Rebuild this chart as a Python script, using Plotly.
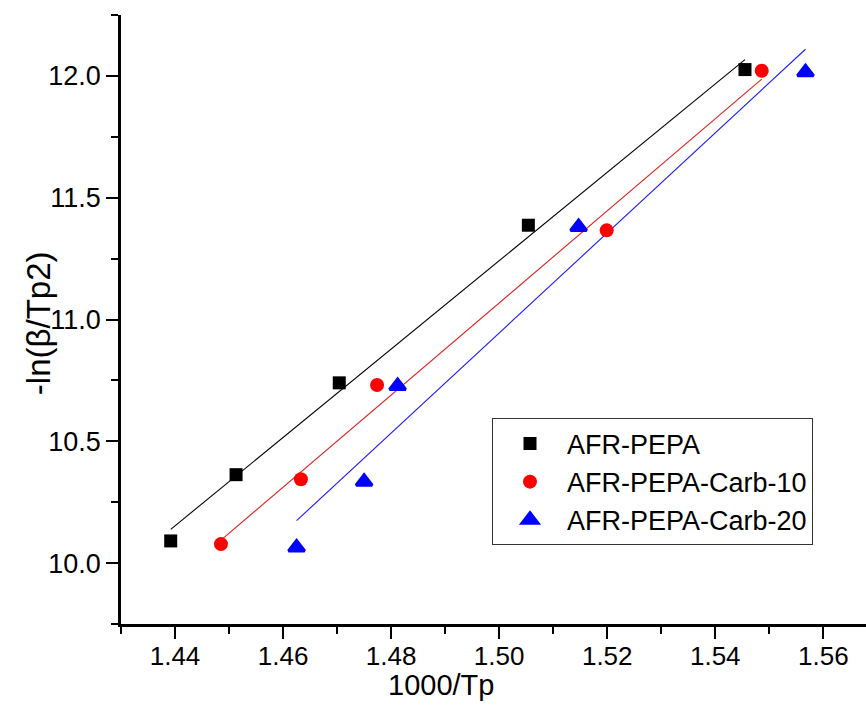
import numpy as np
import plotly.graph_objects as go

# 1000/Tp and -ln(beta/Tp^2) for each sample
x_pepa = [1.4392, 1.4513, 1.4704, 1.5054, 1.5455]
y_pepa = [10.091, 10.363, 10.740, 11.387, 12.026]

x_carb10 = [1.4485, 1.4633, 1.4774, 1.5199, 1.5486]
y_carb10 = [10.078, 10.344, 10.731, 11.366, 12.021]

x_carb20 = [1.4625, 1.4750, 1.4812, 1.5147, 1.5567]
y_carb20 = [10.064, 10.334, 10.727, 11.380, 12.015]

names = ["AFR-PEPA", "AFR-PEPA-Carb-10", "AFR-PEPA-Carb-20"]

FONT = "Liberation Sans, Arial, sans-serif"
NARROW = "Liberation Sans Narrow, Arial Narrow, Liberation Sans, sans-serif"

series = [
    (x_pepa, y_pepa, names[0], "#000000", "#000000", "square", 13, 0),
    (x_carb10, y_carb10, names[1], "#ff0000", "#e02020", "circle", 14, 0),
    (x_carb20, y_carb20, names[2], "#0000ff", "#1a1aff", "triangle-up", 14, 3),
]

fig = go.Figure()

# least-squares fit lines across each series' x span
for xs, ys, name, mcol, lcol, sym, msz, mlw in series:
    k, b = np.polyfit(xs, ys, 1)
    xf = np.array([min(xs), max(xs)])
    fig.add_trace(go.Scatter(
        x=xf, y=k * xf + b, mode="lines",
        line=dict(color=lcol, width=1.1),
        showlegend=False, hoverinfo="skip",
    ))

for xs, ys, name, mcol, lcol, sym, msz, mlw in series:
    fig.add_trace(go.Scatter(
        x=xs, y=ys, mode="markers", name=name,
        marker=dict(symbol=sym, size=msz, color=mcol,
                    line=dict(color=mcol, width=mlw)),
    ))

axis_common = dict(
    showline=True, linecolor="black", linewidth=2.5,
    ticks="outside", ticklen=12, tickwidth=2, tickcolor="black",
    showgrid=False, zeroline=False, mirror=False,
)

fig.update_xaxes(
    range=[1.43, 1.5679], tick0=1.44, dtick=0.02, tickformat=".2f",
    tickfont=dict(family=NARROW, size=26, color="black"),
    ticklabelstandoff=-5,
    minor=dict(dtick=0.01, tick0=1.43, ticklen=7, tickwidth=2, tickcolor="black", ticks="outside"),
    **axis_common,
)
fig.update_yaxes(
    range=[9.75, 12.25], tick0=10.0, dtick=0.5, tickformat=".1f",
    tickfont=dict(family=NARROW, size=27, color="black"),
    minor=dict(dtick=0.25, tick0=9.75, ticklen=7, tickwidth=2, tickcolor="black", ticks="outside"),
    **axis_common,
)

# axis titles
fig.add_annotation(
    text="1000/Tp", xref="paper", yref="paper", x=0.4295, y=-0.0706,
    xanchor="center", yanchor="top", showarrow=False,
    font=dict(family=FONT, size=29, color="black"),
)
fig.add_annotation(
    text="-ln(β/Tp2)", xref="paper", yref="paper", x=-0.1114, y=0.494,
    xanchor="center", yanchor="middle", textangle=-90, showarrow=False,
    font=dict(family=FONT, size=33, color="black"),
)

fig.update_layout(
    width=866, height=717,
    margin=dict(l=121, r=0, t=15, b=93),
    paper_bgcolor="white", plot_bgcolor="white",
    font=dict(family=FONT, color="black"),
    legend=dict(
        x=0.498, y=0.2332, xanchor="left", yanchor="middle",
        bgcolor="white", bordercolor="#333333", borderwidth=1,
        font=dict(family=FONT, size=27, color="black"),
        itemsizing="trace", itemwidth=64,
    ),
)

fig.write_html("out.html")
